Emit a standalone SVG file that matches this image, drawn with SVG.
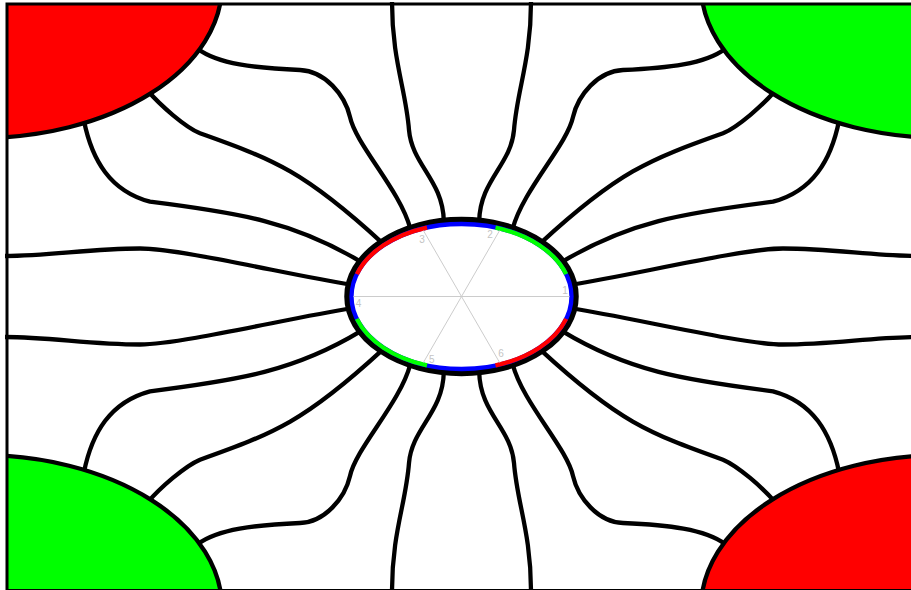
<svg xmlns="http://www.w3.org/2000/svg" width="911" height="590" viewBox="0 0 911 590">
<style>
.tube{fill:none;stroke:#000;stroke-width:4.3;stroke-linecap:butt}
.corner{stroke:#000;stroke-width:4.3}
.arc{fill:none;stroke-width:4.3}
.spoke{stroke:#cccccc;stroke-width:1}
.lbl{font-family:"Liberation Sans",Arial,sans-serif;font-size:10px;fill:#c4c4c4;text-anchor:middle}
</style>
<defs>
<clipPath id="frameClip"><rect x="7" y="4" width="909" height="586.5"/></clipPath>
</defs>
<rect x="0" y="0" width="911" height="590" fill="#fff"/>
<g id="connectors">
<g id="q-tl">
<path class="tube" d="M392,2 C392,60 406,90 409,130 C412,165 443,180 443.8,221"/>
<path class="tube" d="M198,49 C218,64 255,68 300,70 C325,71 345,95 350,117 C356,145 400,190 410.2,228.3"/>
<path class="tube" d="M148,91 C160,105 185,127 200,133.3 C275,160 305,172 381.6,242.4"/>
<path class="tube" d="M84,121 C92,160 110,191 150,201.7 C240,213 295,222 360.8,261.8"/>
<path class="tube" d="M5,256 C50,256 90,248.5 140,248.5 C180,248.5 290,275 349.9,284.5"/>
</g>
<g id="q-tr" transform="matrix(-1 0 0 1 923 0)">
<path class="tube" d="M392,2 C392,60 406,90 409,130 C412,165 443,180 443.8,221"/>
<path class="tube" d="M198,49 C218,64 255,68 300,70 C325,71 345,95 350,117 C356,145 400,190 410.2,228.3"/>
<path class="tube" d="M148,91 C160,105 185,127 200,133.3 C275,160 305,172 381.6,242.4"/>
<path class="tube" d="M84,121 C92,160 110,191 150,201.7 C240,213 295,222 360.8,261.8"/>
<path class="tube" d="M5,256 C50,256 90,248.5 140,248.5 C180,248.5 290,275 349.9,284.5"/>
</g>
<g id="q-bl" transform="matrix(1 0 0 -1 0 593)">
<path class="tube" d="M392,2 C392,60 406,90 409,130 C412,165 443,180 443.8,221"/>
<path class="tube" d="M198,49 C218,64 255,68 300,70 C325,71 345,95 350,117 C356,145 400,190 410.2,228.3"/>
<path class="tube" d="M148,91 C160,105 185,127 200,133.3 C275,160 305,172 381.6,242.4"/>
<path class="tube" d="M84,121 C92,160 110,191 150,201.7 C240,213 295,222 360.8,261.8"/>
<path class="tube" d="M5,256 C50,256 90,248.5 140,248.5 C180,248.5 290,275 349.9,284.5"/>
</g>
<g id="q-br" transform="matrix(-1 0 0 -1 923 593)">
<path class="tube" d="M392,2 C392,60 406,90 409,130 C412,165 443,180 443.8,221"/>
<path class="tube" d="M198,49 C218,64 255,68 300,70 C325,71 345,95 350,117 C356,145 400,190 410.2,228.3"/>
<path class="tube" d="M148,91 C160,105 185,127 200,133.3 C275,160 305,172 381.6,242.4"/>
<path class="tube" d="M84,121 C92,160 110,191 150,201.7 C240,213 295,222 360.8,261.8"/>
<path class="tube" d="M5,256 C50,256 90,248.5 140,248.5 C180,248.5 290,275 349.9,284.5"/>
</g>
</g>
<g clip-path="url(#frameClip)">
<g id="corner-tl"><ellipse class="corner" cx="-20" cy="-15" rx="242" ry="153" fill="#ff0000"/></g>
<g id="corner-tr"><ellipse class="corner" cx="943" cy="-15" rx="242" ry="153" fill="#00ff00"/></g>
<g id="corner-bl"><ellipse class="corner" cx="-20" cy="608" rx="242" ry="153" fill="#00ff00"/></g>
<g id="corner-br"><ellipse class="corner" cx="943" cy="608" rx="242" ry="153" fill="#ff0000"/></g>
</g>
<g id="center">
<ellipse cx="461.5" cy="296.5" rx="113.5" ry="76" fill="#fff" stroke="#000" stroke-width="7.5"/>
<ellipse class="arc" cx="461.5" cy="296.5" rx="110" ry="72.5" stroke="#0000ff"/>
<path class="arc" stroke="#00ff00" d="M566.12,274.10 A110,72.5 0 0 0 495.49,227.55"/>
<path class="arc" stroke="#ff0000" d="M427.01,227.55 A110,72.5 0 0 0 356.88,274.10"/>
<path class="arc" stroke="#00ff00" d="M356.88,318.90 A110,72.5 0 0 0 427.01,365.45"/>
<path class="arc" stroke="#ff0000" d="M495.49,365.45 A110,72.5 0 0 0 566.12,318.90"/>
<line class="spoke" x1="353.5" y1="296.5" x2="569.5" y2="296.5"/>
<line class="spoke" x1="423.4" y1="230.5" x2="499.6" y2="362.5"/>
<line class="spoke" x1="499.6" y1="230.5" x2="423.4" y2="362.5"/>
<text class="lbl" x="565" y="294">1</text>
<text class="lbl" x="490" y="238.3">2</text>
<text class="lbl" x="422" y="243.3">3</text>
<text class="lbl" x="358.5" y="306.7">4</text>
<text class="lbl" x="431.7" y="363.3">5</text>
<text class="lbl" x="501" y="357.3">6</text>
</g>
<rect id="frame" x="7" y="4" width="909" height="586.5" fill="none" stroke="#000" stroke-width="3"/>
</svg>
